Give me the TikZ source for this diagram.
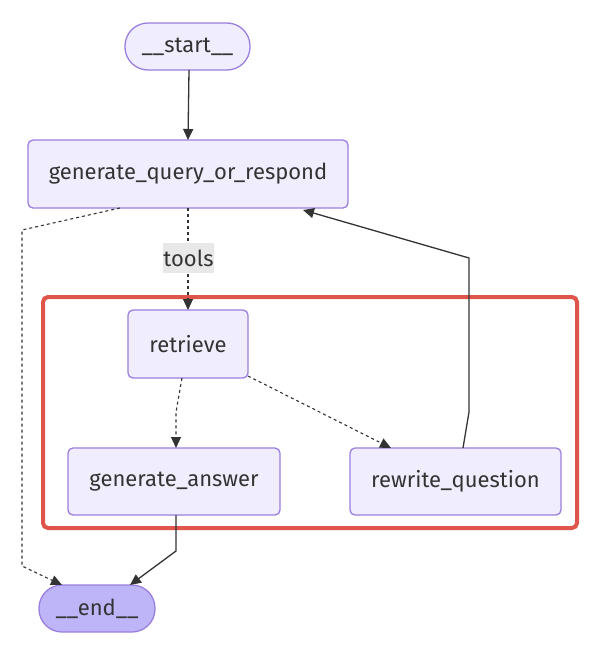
\documentclass[tikz,border=0pt]{standalone}
\usepackage{fontspec}
\setmainfont{Fira Sans}
\usetikzlibrary{arrows.meta}
\definecolor{nodefill}{HTML}{F0EEFE}
\definecolor{nodedraw}{HTML}{9B7FDE}
\definecolor{endfill}{HTML}{BDB5F8}
\definecolor{txt}{HTML}{333333}
\definecolor{redbox}{HTML}{E0554B}
\definecolor{lblbg}{HTML}{E8E8E8}
\tikzset{
  box/.style={draw=nodedraw, fill=nodefill, line width=1.3pt, rounded corners=5pt, inner sep=0pt, text=txt, font=\fontsize{22}{26}\selectfont},
  pill/.style={box, rounded corners=23pt},
  edge/.style={draw=txt, line width=1.3pt, -{Triangle[length=11pt,width=10pt]}},
  dotedge/.style={edge, line width=1.1pt, dash pattern=on 3pt off 3pt},
}
\begin{document}
\begin{tikzpicture}[x=1pt,y=-1pt]
\useasboundingbox (0,0) rectangle (614,651);
\fill[white] (0,0) rectangle (614,651);
% group frame
\draw[redbox, line width=4pt, rounded corners=5pt] (43,297) rectangle (577,528);
% nodes
\node[pill, minimum width=125pt, minimum height=47pt] (start) at (187.5,46.5) {\_\_start\_\_};
\node[box, minimum width=320pt, minimum height=68pt] (gqr) at (188,174) {generate\_query\_or\_respond};
\node[box, minimum width=120pt, minimum height=68pt] (ret) at (188,344) {retrieve};
\node[box, minimum width=212pt, minimum height=67pt] (ga) at (174,481.5) {generate\_answer};
\node[box, minimum width=211pt, minimum height=67pt] (rq) at (455.5,481.5) {rewrite\_question};
\node[pill, fill=endfill, minimum width=116pt, minimum height=47pt] (end) at (97,608.5) {\_\_end\_\_};
% coordinates
\coordinate (e1a) at (22,230);
\coordinate (e1b) at (22,566);
\coordinate (r1) at (176,412);
\coordinate (q1) at (469,412);
\coordinate (q2) at (469,258);
\coordinate (g1) at (176,551);
% edges
\draw[edge] (189,70) -- (188,140);
\draw[dotedge] (120,208) -- (e1a) -- (e1b) -- (62,585);
\draw[dotedge] (188,208) -- (188,310);
\node[fill=lblbg, inner sep=0pt, minimum width=49pt, minimum height=30pt, text=txt, font=\fontsize{22}{26}\selectfont] (tools) at (188.5,258) {tools};
\draw[dotedge] (182,378) -- (r1) -- (176,448);
\draw[dotedge] (248,376) -- (391,448);
\draw[edge] (463,448) -- (q1) -- (q2) -- (303,210);
\draw[edge] (176,515) -- (g1) -- (130,585);
\end{tikzpicture}
\end{document}
